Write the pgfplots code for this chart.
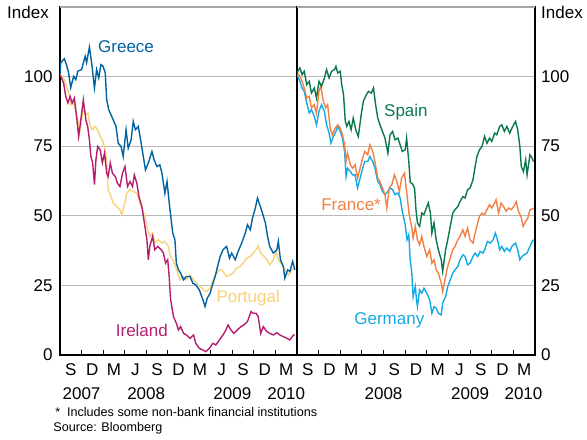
\documentclass[border=0pt]{standalone}
\usepackage{fontspec}
\setmainfont{Liberation Sans}
\usepackage{pgfplots}
\pgfplotsset{compat=1.18}
\definecolor{greece}{RGB}{0,98,160}
\definecolor{ireland}{RGB}{181,30,110}
\definecolor{portugal}{RGB}{248,210,120}
\definecolor{spain}{RGB}{10,120,75}
\definecolor{france}{RGB}{240,130,70}
\definecolor{germany}{RGB}{20,170,230}
\newcommand{\tl}{\fontsize{8.5}{10}\selectfont}
\pgfplotsset{
  rbapanel/.style={
    scale only axis, height=174pt, xmin=0, xmax=33, ymin=0, ymax=125,
    clip mode=individual,
    xtick={0,3,...,33}, xticklabels={S,D,M,J,S,D,M,J,S,D,M},
    x tick label as interval,
    ytick={0,25,50,75,100},
    ymajorgrids, major grid style={draw=gray!55, line width=0.55pt},
    tick align=inside, xtick pos=left,
    major tick length=2.5pt,
    ytick style={draw=none},
    xtick style={draw=black, line width=0.5pt},
    axis line style={line width=0.6pt},
    tick label style={font=\tl},
    xticklabel style={inner sep=0pt, yshift=-4pt},
    /pgf/number format/assume math mode=true,
    every axis plot/.append style={line width=0.7pt, no marks},
  }
}
\begin{document}
\begin{tikzpicture}
\useasboundingbox (0,0) rectangle (293.5pt,219.5pt);
% left panel
\begin{axis}[rbapanel, at={(30pt,42pt)}, anchor=south west, width=118.5pt,
  yticklabel style={anchor=east, inner sep=0pt, xshift=-3.5pt}]
\addplot[portugal] coordinates {(0,101)(0.6,98.9)(0.9,96.5)(1.25,94.1)(1.5,89.9)(1.85,91.1)(2.2,87.5)(2.5,84.5)(2.6,78.5)(2.9,82.1)(3.2,88.7)(3.6,86.3)(3.9,86.9)(4.2,82.1)(4.5,80.9)(4.9,82.1)(5.25,80.9)(5.6,78.5)(5.9,77.3)(6.3,73.7)(6.5,69)(6.7,59.4)(7.1,56.9)(7.4,54.6)(7.9,53.3)(8.35,52.2)(8.6,50.4)(9.0,54.6)(9.3,58.1)(9.75,59.4)(10.2,58.7)(10.7,58.1)(11.1,54.6)(11.5,52.2)(11.8,49.8)(12.2,45)(12.5,42.6)(12.9,43.8)(13.2,40.2)(13.7,41.4)(14.2,40.2)(14.6,40.8)(15.1,39)(15.3,36)(15.8,33.6)(16.25,30.6)(16.7,27)(17.2,28.2)(17.6,27)(18.1,28.8)(18.6,27)(19.0,25.8)(19.5,24.6)(20.0,23.4)(20.4,22.8)(20.9,24)(21.35,27)(21.8,29.4)(22.3,30.6)(22.7,30)(23.2,28.2)(23.7,28.8)(24.1,29.4)(24.6,31.2)(25.1,31.8)(25.5,33)(26.0,34.8)(26.5,35.4)(26.9,36.6)(27.3,37.8)(27.6,39.2)(27.95,36.6)(28.4,35.4)(28.8,34.2)(29.2,32.4)(29.7,34.2)(30.1,37.2)(30.4,34.2)(30.9,32.4)(31.3,30.6)(31.8,28.8)(32.3,30.6)(32.7,31.2)};
\addplot[ireland] coordinates {(0,100.7)(0.5,97.7)(0.8,92.9)(1.1,90.5)(1.4,92.9)(1.7,90.5)(2.0,92.3)(2.3,85.7)(2.6,78.5)(2.9,84.5)(3.25,91.7)(3.6,84.5)(3.85,82.1)(4.1,77.3)(4.3,71.3)(4.55,69)(4.8,61.2)(5.0,70.1)(5.25,74.9)(5.6,73.7)(5.9,69)(6.2,72.5)(6.5,65.3)(6.7,64.1)(7.0,69)(7.3,65.3)(7.7,64.1)(8.0,61.7)(8.35,60.5)(8.7,65.3)(9.05,67.7)(9.4,60.5)(9.75,62.3)(10.1,60.5)(10.35,64.7)(10.7,61.7)(11.0,56.9)(11.4,53.3)(11.75,47.4)(12.1,41.4)(12.3,34.2)(12.5,39)(12.9,42.6)(13.2,37.8)(13.6,39)(14.1,37.8)(14.4,36.6)(14.7,33)(15.0,34.2)(15.2,28.2)(15.4,20)(15.8,13.8)(16.2,11.4)(16.5,9.0)(16.8,10.2)(17.2,7.8)(17.6,7.2)(18.1,6.0)(18.6,7.2)(18.9,4.2)(19.4,2.4)(19.9,1.8)(20.3,1.2)(20.8,2.4)(21.3,4.2)(21.7,3.6)(22.2,5.4)(22.7,7.2)(23.1,9.0)(23.4,10.8)(23.8,9.0)(24.2,7.8)(24.7,9.0)(25.2,10.2)(25.6,10.8)(26.1,12.0)(26.6,15.6)(26.9,15.0)(27.3,15.0)(27.6,13.8)(27.95,7.8)(28.3,10.2)(28.8,8.4)(29.2,7.8)(29.7,7.2)(30.2,8.0)(30.6,7.2)(31.1,6.6)(31.6,6.0)(32.0,5.4)(32.5,7.2)(32.7,7.2)};
\addplot[greece] coordinates {(0,101)(0.1,105)(0.6,106.4)(0.9,104.3)(1.2,101.3)(1.5,96)(1.9,100.1)(2.2,98.9)(2.5,102)(3.0,102.5)(3.5,107.3)(3.7,105)(4.1,110.6)(4.4,105)(4.8,95.9)(5.1,102.5)(5.4,99.5)(5.7,104.3)(6.0,103.7)(6.3,101.3)(6.5,91.7)(6.8,88)(7.1,86.3)(7.4,84.5)(7.8,82.1)(8.1,76.1)(8.5,74.9)(8.8,71.3)(9.2,80.9)(9.5,74.3)(9.9,77.3)(10.2,83.9)(10.5,80.9)(10.9,82.1)(11.3,76.1)(11.6,71.3)(11.9,66.5)(12.3,69)(12.8,73.1)(13.1,70.1)(13.5,67.7)(13.9,68.3)(14.2,65.3)(14.6,58.1)(14.9,62.3)(15.3,52.5)(15.7,43.8)(16.0,41.4)(16.2,33)(16.5,30.6)(16.8,29.4)(17.2,27)(17.6,28.2)(18.1,28.2)(18.5,25.8)(18.9,25.2)(19.4,23.4)(19.9,19.8)(20.2,17.4)(20.5,20.4)(20.9,22.2)(21.3,25.8)(21.6,28.2)(22.0,32.4)(22.3,35.4)(22.7,37.8)(23.2,39)(23.6,34.8)(23.9,36.6)(24.4,34.2)(24.8,37.2)(25.3,40.2)(25.8,43.8)(26.1,46.8)(26.5,45)(26.8,49.2)(27.2,52.8)(27.5,56.4)(27.9,53.3)(28.2,50.9)(28.6,47.4)(28.9,42.6)(29.2,39)(29.7,36.6)(30.2,37.8)(30.4,40.8)(30.7,34.2)(31.1,31.8)(31.3,27.6)(31.7,30.6)(32.0,30)(32.4,33.6)(32.7,30.6)};
\draw[gray!70, line width=0.6pt] (rel axis cs:0,1) -- (rel axis cs:1,1);
\node[font=\tl, text=greece] at (axis cs:9.2,110.8) {Greece};
\node[font=\tl, text=ireland] at (axis cs:11.4,9.0) {Ireland};
\node[font=\tl, text=portugal] at (axis cs:26.2,20.5) {Portugal};
\node[font=\tl, yshift=-19.5pt] at (axis cs:3,0) {2007};
\node[font=\tl, yshift=-19.5pt] at (axis cs:12,0) {2008};
\node[font=\tl, yshift=-19.5pt] at (axis cs:24,0) {2009};
\node[font=\tl, yshift=-19.5pt] at (axis cs:31.5,0) {2010};
\end{axis}
% right panel
\begin{axis}[rbapanel, at={(148.5pt,42pt)}, anchor=south west, width=119pt,
  yticklabel pos=right,
  yticklabel style={anchor=west, inner sep=0pt, xshift=2.8pt}]
\addplot[germany] coordinates {(0,100.7)(0.4,98.3)(0.7,95.9)(1.0,94.7)(1.35,90.5)(1.7,86.9)(2.0,88.1)(2.4,85.7)(2.7,82.7)(3.05,87.5)(3.4,89.9)(3.8,87.5)(4.1,82.7)(4.45,79.7)(4.7,76.1)(5.05,78.5)(5.4,80.3)(5.65,82.1)(6.0,80.3)(6.3,77.9)(6.6,73.1)(6.8,64.1)(7.0,67.1)(7.4,65.9)(7.7,64.7)(8.05,64.7)(8.4,60)(8.75,63.5)(9.1,67.1)(9.4,69.5)(9.8,69.5)(10.1,71.3)(10.5,69.5)(10.8,67.1)(11.2,62.3)(11.5,61.2)(11.85,58.7)(12.2,57.6)(12.6,58.7)(12.9,60)(13.25,59.4)(13.6,57.6)(14.0,58.2)(14.3,56.4)(14.6,51.6)(15.0,46.8)(15.25,41.4)(15.5,43.2)(15.7,34)(15.9,30)(16.1,21)(16.4,24.6)(16.6,19.2)(16.7,17.4)(17.0,23.4)(17.3,22.2)(17.6,24)(18.0,22.2)(18.4,19.8)(18.7,15)(19.0,17.4)(19.3,16.8)(19.6,15)(20.0,14.4)(20.2,18.6)(20.6,21)(20.9,24.6)(21.25,27)(21.6,29.4)(21.9,30.6)(22.3,31.8)(22.6,34.2)(23.0,36)(23.3,35.4)(23.65,32.4)(24.0,33)(24.4,35.4)(24.7,36.6)(25.05,35.4)(25.4,37.2)(25.8,36.6)(26.1,38.4)(26.4,40.8)(26.8,40.2)(27.2,41.4)(27.5,43.8)(27.8,41.4)(28.1,37.8)(28.4,39)(28.75,37.2)(29.1,38.4)(29.5,37.2)(29.8,39)(30.3,40.2)(30.6,37.8)(30.9,34.2)(31.2,35.4)(31.5,36)(31.9,36.6)(32.3,39)(32.6,40.8)(32.8,41.4)};
\addplot[france] coordinates {(0,101.3)(0.4,100.1)(0.7,98.3)(1.0,95.9)(1.35,92.3)(1.7,92.9)(2.0,88.7)(2.4,89.9)(2.7,86.9)(3.05,94.7)(3.3,96.5)(3.65,91.1)(4.0,88.7)(4.25,89.9)(4.6,81.5)(4.9,79.1)(5.3,81.5)(5.65,82.7)(6.0,81.5)(6.3,79.1)(6.6,75.5)(6.8,69.5)(7.0,72.5)(7.4,68.3)(7.7,67.1)(8.05,68.3)(8.4,63.5)(8.75,67.1)(9.1,70.7)(9.4,73.1)(9.8,71.9)(10.1,75.5)(10.5,73.1)(10.8,69.5)(11.2,63.5)(11.5,62.3)(11.85,60)(12.2,57.6)(12.45,52.8)(12.8,60)(13.15,61.2)(13.5,64.7)(13.85,62.3)(14.2,58.7)(14.5,63.5)(14.9,65.3)(15.25,57.6)(15.55,50.4)(15.9,46)(16.1,42)(16.4,46.2)(16.7,41.4)(17.0,39.6)(17.3,42.6)(17.6,39)(18.0,35.4)(18.4,37.8)(18.7,33)(19.0,34.2)(19.3,30.6)(19.6,29.4)(20.0,25.8)(20.2,22.8)(20.6,28.2)(20.9,31.8)(21.25,34.8)(21.6,37.8)(21.9,39)(22.3,41.4)(22.6,42.6)(23.0,45)(23.3,42.6)(23.65,45.6)(24.0,41.4)(24.4,40.2)(24.7,43.8)(25.05,47.4)(25.3,49.8)(25.65,51)(26.0,50.4)(26.35,52.2)(26.7,54)(27.0,52.8)(27.4,54.6)(27.6,55.8)(27.95,51)(28.3,54.6)(28.65,53.3)(29.0,51.6)(29.35,52.8)(29.7,52.2)(30.05,53.3)(30.4,55.1)(30.7,51.6)(31.05,49.8)(31.35,46.2)(31.7,48)(32.0,49.2)(32.3,52.2)(32.6,52.4)(32.8,52.8)};
\addplot[spain] coordinates {(0,101)(0.1,101.9)(0.4,103.1)(0.7,100.7)(1.0,101.9)(1.35,97.1)(1.7,98.3)(2.0,94.1)(2.4,95.9)(2.7,92.3)(3.05,98.3)(3.4,96.5)(3.8,99.5)(4.1,102.5)(4.45,99.5)(4.8,101.9)(5.2,102.5)(5.4,103.7)(5.65,101.3)(6.0,101.9)(6.2,97.1)(6.45,93.5)(6.7,83.9)(6.9,82.1)(7.2,83.9)(7.5,80.9)(7.8,85.1)(8.15,80.9)(8.5,78.5)(8.9,86.3)(9.2,91.1)(9.5,92.9)(9.9,94.7)(10.3,94.1)(10.6,95.9)(10.9,89.9)(11.2,85.1)(11.5,82.7)(11.85,80.3)(12.2,77.9)(12.6,72.5)(12.9,79.1)(13.25,80.3)(13.6,77.3)(14.0,77.9)(14.3,75.5)(14.6,73.1)(15.0,73.7)(15.2,77.9)(15.5,69.5)(15.7,62)(16.0,61.5)(16.3,60)(16.5,52)(16.7,47.4)(17.0,46.2)(17.3,51)(17.6,50.4)(18.0,53.3)(18.2,54.6)(18.5,51)(18.7,43.8)(19.0,47.4)(19.3,41.4)(19.6,37.8)(20.0,34.2)(20.2,30)(20.6,37.8)(20.9,41.4)(21.25,46.2)(21.6,51)(21.9,52.2)(22.3,53.3)(22.6,55.1)(23.0,56.9)(23.3,56.4)(23.65,59.4)(24.0,60)(24.4,62.9)(24.7,67.7)(24.95,71.3)(25.3,73.7)(25.65,74.9)(26.0,78.5)(26.35,76.1)(26.7,77.9)(27.0,76.7)(27.4,79.7)(27.7,79.1)(28.1,82.1)(28.4,82.7)(28.75,80.3)(29.1,82.1)(29.5,79.7)(29.8,81.5)(30.3,83.9)(30.6,80.9)(30.9,74.9)(31.1,67.7)(31.4,65.9)(31.7,70.1)(31.9,64.7)(32.3,71.9)(32.6,70.7)(32.8,69.5)};
\draw[gray!70, line width=0.6pt] (rel axis cs:0,1) -- (rel axis cs:1,1);
\node[font=\tl, text=spain] at (axis cs:15.1,87.4) {Spain};
\node[font=\tl, text=france] at (axis cs:7.5,54) {France*};
\node[font=\tl, text=germany] at (axis cs:12.8,12.6) {Germany};
\node[font=\tl, yshift=-19.5pt] at (axis cs:12,0) {2008};
\node[font=\tl, yshift=-19.5pt] at (axis cs:24,0) {2009};
\node[font=\tl, yshift=-19.5pt] at (axis cs:31.4,0) {2010};
\end{axis}
\node[font=\tl] at (14pt,213.5pt) {Index};
\node[font=\tl] at (281pt,213.5pt) {Index};
\node[font=\fontsize{6.3}{8}\selectfont, anchor=west, inner sep=0pt] at (27.5pt,13.5pt) {*\hspace{3.4pt}Includes some non-bank financial institutions};
\node[font=\fontsize{6.3}{8}\selectfont, anchor=west, inner sep=0pt] at (26.5pt,5.5pt) {Source: Bloomberg};
\end{tikzpicture}
\end{document}
